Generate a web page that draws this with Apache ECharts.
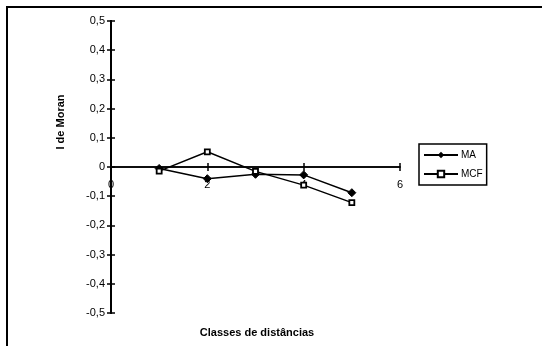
<!DOCTYPE html>
<html><head><meta charset="utf-8">
<script src="https://cdn.jsdelivr.net/npm/echarts@6/dist/echarts.min.js"></script>
<style>html,body{margin:0;padding:0;background:#fff}#c{width:542px;height:346px}</style>
</head><body><div id="c"></div>
<script>
var classes = [1, 2, 3, 4, 5];
var maValues = [-0.005, -0.040, -0.025, -0.027, -0.088];
var mcfValues = [-0.014, 0.052, -0.015, -0.062, -0.122];
var xTicks = [0, 2, 4, 6];
var yTicks = [-0.5, -0.4, -0.3, -0.2, -0.1, 0, 0.1, 0.2, 0.3, 0.4, 0.5];

function pairs(xs, ys) { return xs.map(function (x, i) { return [x, ys[i]]; }); }
function fmtY(v) { var r = Math.round(v * 10) / 10; return r === 0 ? '0' : r.toFixed(1).replace('.', ','); }

var font = 'Liberation Sans, Arial, sans-serif';
var chart = echarts.init(document.getElementById('c'));
var gridTop = 21, gridBottom = 33, gridH = 346 - gridTop - gridBottom;
var zeroOffset = -gridH * (0 - yTicks[0]) / (yTicks[yTicks.length - 1] - yTicks[0]);
var xBase = {
  type: 'value', min: xTicks[0], max: xTicks[xTicks.length - 1], interval: 2,
  position: 'bottom', offset: zeroOffset,
  splitLine: { show: false },
  axisLine: { onZero: false, lineStyle: { color: '#000', width: 1.5 } }
};
var yBase = {
  type: 'value', min: yTicks[0], max: yTicks[yTicks.length - 1], interval: 0.1,
  splitLine: { show: false },
  axisLine: { lineStyle: { color: '#000', width: 2 } }
};
chart.setOption({
  animation: false,
  backgroundColor: '#fff',
  grid: { left: 111, right: 142, top: gridTop, bottom: gridBottom },
  xAxis: [
    Object.assign({}, xBase, {
      axisTick: { length: 4, lineStyle: { color: '#000', width: 1.5 } },
      axisLabel: { color: '#000', fontFamily: font, fontSize: 11, margin: 12 }
    }),
    Object.assign({}, xBase, {
      axisTick: { inside: true, length: 4, lineStyle: { color: '#000', width: 1.5 } },
      axisLabel: { show: false }
    })
  ],
  yAxis: [
    Object.assign({}, yBase, {
      axisTick: { length: 4, lineStyle: { color: '#000', width: 1.5 } },
      axisLabel: { color: '#000', fontFamily: font, fontSize: 11, margin: 6, formatter: fmtY }
    }),
    Object.assign({}, yBase, {
      position: 'left',
      axisTick: { inside: true, length: 4, lineStyle: { color: '#000', width: 1.5 } },
      axisLabel: { show: false }
    })
  ],
  legend: {
    left: 419, top: 144, orient: 'vertical',
    width: 64,
    padding: [6, 4, 6, 4],
    itemGap: 9,
    itemWidth: 34, itemHeight: 8,
    borderColor: '#000', borderWidth: 1.5,
    textStyle: { color: '#000', fontFamily: font, fontSize: 10, padding: [0, 0, 0, -2] },
    data: ['MA', 'MCF']
  },
  graphic: [
    { type: 'line', shape: { x1: 6, y1: 7, x2: 542, y2: 7 }, style: { stroke: '#000', lineWidth: 2 } },
    { type: 'line', shape: { x1: 7, y1: 6, x2: 7, y2: 346 }, style: { stroke: '#000', lineWidth: 2 } },
    { type: 'text', x: 61, y: 122, rotation: Math.PI / 2, style: { text: 'I de Moran', fill: '#000', font: 'bold 11px ' + font, textAlign: 'center', textVerticalAlign: 'middle' } },
    { type: 'text', x: 257, y: 333, style: { text: 'Classes de distâncias', fill: '#000', font: 'bold 11px ' + font, textAlign: 'center', textVerticalAlign: 'middle' } }
  ],
  series: [
    {
      name: 'MA', type: 'line', data: pairs(classes, maValues),
      symbol: 'diamond', symbolSize: 8,
      lineStyle: { color: '#000', width: 1.5 },
      itemStyle: { color: '#000', borderColor: '#000' }
    },
    {
      name: 'MCF', type: 'line', data: pairs(classes, mcfValues),
      symbol: 'rect', symbolSize: 5,
      lineStyle: { color: '#000', width: 1.5 },
      itemStyle: { color: '#fff', borderColor: '#000', borderWidth: 1.8 }
    }
  ]
});
</script></body></html>
